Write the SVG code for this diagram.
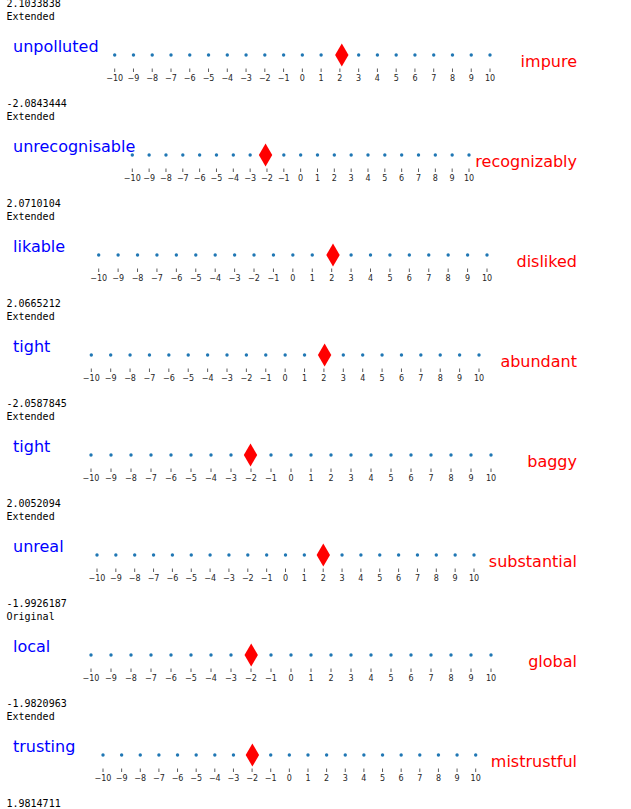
<svg xmlns="http://www.w3.org/2000/svg" xmlns:xlink="http://www.w3.org/1999/xlink" width="631" height="809" viewBox="0 0 631 809">
<style>
.val{font-family:"DejaVu Sans Mono","Liberation Mono",monospace;font-size:10px;fill:#000}
.lft{font-family:"DejaVu Sans","Noto Sans",sans-serif;font-size:16px;fill:#0000ff}
.rgt{font-family:"DejaVu Sans","Noto Sans",sans-serif;font-size:16px;fill:#ff0000;text-anchor:end}
.tl{font-family:"DejaVu Sans","Noto Sans",sans-serif;font-size:8px;fill:#262626;text-anchor:middle}
.dot{fill:#1f77b4}
.tk{stroke:#333;stroke-width:0.8;fill:none}
.dia{fill:#ff0000}
</style>
<defs>
<path id="dia" class="dia" d="M0,-11.5 L6.7,0 L0,11.5 L-6.7,0 Z"/>
<circle id="d" class="dot" r="1.7"/>
</defs>
<rect width="631" height="809" fill="#fff"/>

<g id="panel1">
<text class="val" x="6.5" y="7.3">2.1033838</text>
<text class="val" x="6.5" y="19.5">Extended</text>
<text class="lft" x="13" y="51.7">unpolluted</text>
<text class="rgt" x="577" y="66.7">impure</text>
<g>
<use xlink:href="#d" x="114.7" y="55"/><use xlink:href="#d" x="133.47" y="55"/><use xlink:href="#d" x="152.23" y="55"/><use xlink:href="#d" x="171" y="55"/><use xlink:href="#d" x="189.76" y="55"/><use xlink:href="#d" x="208.53" y="55"/><use xlink:href="#d" x="227.29" y="55"/><use xlink:href="#d" x="246.06" y="55"/><use xlink:href="#d" x="264.82" y="55"/><use xlink:href="#d" x="283.59" y="55"/><use xlink:href="#d" x="302.35" y="55"/><use xlink:href="#d" x="321.12" y="55"/><use xlink:href="#d" x="339.88" y="55"/><use xlink:href="#d" x="358.65" y="55"/><use xlink:href="#d" x="377.41" y="55"/><use xlink:href="#d" x="396.18" y="55"/><use xlink:href="#d" x="414.94" y="55"/><use xlink:href="#d" x="433.71" y="55"/><use xlink:href="#d" x="452.47" y="55"/><use xlink:href="#d" x="471.24" y="55"/><use xlink:href="#d" x="490" y="55"/>
</g>
<path class="tk" d="M114.7 68.5v3.5M133.47 68.5v3.5M152.23 68.5v3.5M171 68.5v3.5M189.76 68.5v3.5M208.53 68.5v3.5M227.29 68.5v3.5M246.06 68.5v3.5M264.82 68.5v3.5M283.59 68.5v3.5M302.35 68.5v3.5M321.12 68.5v3.5M339.88 68.5v3.5M358.65 68.5v3.5M377.41 68.5v3.5M396.18 68.5v3.5M414.94 68.5v3.5M433.71 68.5v3.5M452.47 68.5v3.5M471.24 68.5v3.5M490 68.5v3.5"/>
<text class="tl" x="114.7" y="80.5">−10</text><text class="tl" x="133.47" y="80.5">−9</text><text class="tl" x="152.23" y="80.5">−8</text><text class="tl" x="171" y="80.5">−7</text><text class="tl" x="189.76" y="80.5">−6</text><text class="tl" x="208.53" y="80.5">−5</text><text class="tl" x="227.29" y="80.5">−4</text><text class="tl" x="246.06" y="80.5">−3</text><text class="tl" x="264.82" y="80.5">−2</text><text class="tl" x="283.59" y="80.5">−1</text><text class="tl" x="302.35" y="80.5">0</text><text class="tl" x="321.12" y="80.5">1</text><text class="tl" x="339.88" y="80.5">2</text><text class="tl" x="358.65" y="80.5">3</text><text class="tl" x="377.41" y="80.5">4</text><text class="tl" x="396.18" y="80.5">5</text><text class="tl" x="414.94" y="80.5">6</text><text class="tl" x="433.71" y="80.5">7</text><text class="tl" x="452.47" y="80.5">8</text><text class="tl" x="471.24" y="80.5">9</text><text class="tl" x="490" y="80.5">10</text>
<use xlink:href="#dia" x="341.8" y="55"/>
</g>

<g id="panel2" transform="translate(0,100)">
<text class="val" x="6.5" y="7.3">-2.0843444</text>
<text class="val" x="6.5" y="19.5">Extended</text>
<text class="lft" x="13" y="51.7">unrecognisable</text>
<text class="rgt" x="577" y="66.7">recognizably</text>
<g>
<use xlink:href="#d" x="132.3" y="55"/><use xlink:href="#d" x="149.14" y="55"/><use xlink:href="#d" x="165.97" y="55"/><use xlink:href="#d" x="182.81" y="55"/><use xlink:href="#d" x="199.64" y="55"/><use xlink:href="#d" x="216.48" y="55"/><use xlink:href="#d" x="233.31" y="55"/><use xlink:href="#d" x="250.15" y="55"/><use xlink:href="#d" x="266.98" y="55"/><use xlink:href="#d" x="283.82" y="55"/><use xlink:href="#d" x="300.65" y="55"/><use xlink:href="#d" x="317.49" y="55"/><use xlink:href="#d" x="334.32" y="55"/><use xlink:href="#d" x="351.16" y="55"/><use xlink:href="#d" x="367.99" y="55"/><use xlink:href="#d" x="384.83" y="55"/><use xlink:href="#d" x="401.66" y="55"/><use xlink:href="#d" x="418.5" y="55"/><use xlink:href="#d" x="435.33" y="55"/><use xlink:href="#d" x="452.17" y="55"/><use xlink:href="#d" x="469" y="55"/>
</g>
<path class="tk" d="M132.3 68.5v3.5M149.14 68.5v3.5M165.97 68.5v3.5M182.81 68.5v3.5M199.64 68.5v3.5M216.48 68.5v3.5M233.31 68.5v3.5M250.15 68.5v3.5M266.98 68.5v3.5M283.82 68.5v3.5M300.65 68.5v3.5M317.49 68.5v3.5M334.32 68.5v3.5M351.16 68.5v3.5M367.99 68.5v3.5M384.83 68.5v3.5M401.66 68.5v3.5M418.5 68.5v3.5M435.33 68.5v3.5M452.17 68.5v3.5M469 68.5v3.5"/>
<text class="tl" x="132.3" y="80.5">−10</text><text class="tl" x="149.14" y="80.5">−9</text><text class="tl" x="165.97" y="80.5">−8</text><text class="tl" x="182.81" y="80.5">−7</text><text class="tl" x="199.64" y="80.5">−6</text><text class="tl" x="216.48" y="80.5">−5</text><text class="tl" x="233.31" y="80.5">−4</text><text class="tl" x="250.15" y="80.5">−3</text><text class="tl" x="266.98" y="80.5">−2</text><text class="tl" x="283.82" y="80.5">−1</text><text class="tl" x="300.65" y="80.5">0</text><text class="tl" x="317.49" y="80.5">1</text><text class="tl" x="334.32" y="80.5">2</text><text class="tl" x="351.16" y="80.5">3</text><text class="tl" x="367.99" y="80.5">4</text><text class="tl" x="384.83" y="80.5">5</text><text class="tl" x="401.66" y="80.5">6</text><text class="tl" x="418.5" y="80.5">7</text><text class="tl" x="435.33" y="80.5">8</text><text class="tl" x="452.17" y="80.5">9</text><text class="tl" x="469" y="80.5">10</text>
<use xlink:href="#dia" x="265.56" y="55"/>
</g>

<g id="panel3" transform="translate(0,200)">
<text class="val" x="6.5" y="7.3">2.0710104</text>
<text class="val" x="6.5" y="19.5">Extended</text>
<text class="lft" x="13" y="51.7">likable</text>
<text class="rgt" x="577" y="66.7">disliked</text>
<g>
<use xlink:href="#d" x="98.7" y="55"/><use xlink:href="#d" x="118.12" y="55"/><use xlink:href="#d" x="137.53" y="55"/><use xlink:href="#d" x="156.95" y="55"/><use xlink:href="#d" x="176.36" y="55"/><use xlink:href="#d" x="195.78" y="55"/><use xlink:href="#d" x="215.19" y="55"/><use xlink:href="#d" x="234.61" y="55"/><use xlink:href="#d" x="254.02" y="55"/><use xlink:href="#d" x="273.44" y="55"/><use xlink:href="#d" x="292.85" y="55"/><use xlink:href="#d" x="312.27" y="55"/><use xlink:href="#d" x="331.68" y="55"/><use xlink:href="#d" x="351.1" y="55"/><use xlink:href="#d" x="370.51" y="55"/><use xlink:href="#d" x="389.93" y="55"/><use xlink:href="#d" x="409.34" y="55"/><use xlink:href="#d" x="428.76" y="55"/><use xlink:href="#d" x="448.17" y="55"/><use xlink:href="#d" x="467.59" y="55"/><use xlink:href="#d" x="487" y="55"/>
</g>
<path class="tk" d="M98.7 68.5v3.5M118.12 68.5v3.5M137.53 68.5v3.5M156.95 68.5v3.5M176.36 68.5v3.5M195.78 68.5v3.5M215.19 68.5v3.5M234.61 68.5v3.5M254.02 68.5v3.5M273.44 68.5v3.5M292.85 68.5v3.5M312.27 68.5v3.5M331.68 68.5v3.5M351.1 68.5v3.5M370.51 68.5v3.5M389.93 68.5v3.5M409.34 68.5v3.5M428.76 68.5v3.5M448.17 68.5v3.5M467.59 68.5v3.5M487 68.5v3.5"/>
<text class="tl" x="98.7" y="80.5">−10</text><text class="tl" x="118.12" y="80.5">−9</text><text class="tl" x="137.53" y="80.5">−8</text><text class="tl" x="156.95" y="80.5">−7</text><text class="tl" x="176.36" y="80.5">−6</text><text class="tl" x="195.78" y="80.5">−5</text><text class="tl" x="215.19" y="80.5">−4</text><text class="tl" x="234.61" y="80.5">−3</text><text class="tl" x="254.02" y="80.5">−2</text><text class="tl" x="273.44" y="80.5">−1</text><text class="tl" x="292.85" y="80.5">0</text><text class="tl" x="312.27" y="80.5">1</text><text class="tl" x="331.68" y="80.5">2</text><text class="tl" x="351.1" y="80.5">3</text><text class="tl" x="370.51" y="80.5">4</text><text class="tl" x="389.93" y="80.5">5</text><text class="tl" x="409.34" y="80.5">6</text><text class="tl" x="428.76" y="80.5">7</text><text class="tl" x="448.17" y="80.5">8</text><text class="tl" x="467.59" y="80.5">9</text><text class="tl" x="487" y="80.5">10</text>
<use xlink:href="#dia" x="333" y="55"/>
</g>

<g id="panel4" transform="translate(0,300)">
<text class="val" x="6.5" y="7.3">2.0665212</text>
<text class="val" x="6.5" y="19.5">Extended</text>
<text class="lft" x="13" y="51.7">tight</text>
<text class="rgt" x="577" y="66.7">abundant</text>
<g>
<use xlink:href="#d" x="91.3" y="55"/><use xlink:href="#d" x="110.69" y="55"/><use xlink:href="#d" x="130.07" y="55"/><use xlink:href="#d" x="149.46" y="55"/><use xlink:href="#d" x="168.84" y="55"/><use xlink:href="#d" x="188.23" y="55"/><use xlink:href="#d" x="207.61" y="55"/><use xlink:href="#d" x="227" y="55"/><use xlink:href="#d" x="246.38" y="55"/><use xlink:href="#d" x="265.77" y="55"/><use xlink:href="#d" x="285.15" y="55"/><use xlink:href="#d" x="304.54" y="55"/><use xlink:href="#d" x="323.92" y="55"/><use xlink:href="#d" x="343.31" y="55"/><use xlink:href="#d" x="362.69" y="55"/><use xlink:href="#d" x="382.08" y="55"/><use xlink:href="#d" x="401.46" y="55"/><use xlink:href="#d" x="420.85" y="55"/><use xlink:href="#d" x="440.23" y="55"/><use xlink:href="#d" x="459.62" y="55"/><use xlink:href="#d" x="479" y="55"/>
</g>
<path class="tk" d="M91.3 68.5v3.5M110.69 68.5v3.5M130.07 68.5v3.5M149.46 68.5v3.5M168.84 68.5v3.5M188.23 68.5v3.5M207.61 68.5v3.5M227 68.5v3.5M246.38 68.5v3.5M265.77 68.5v3.5M285.15 68.5v3.5M304.54 68.5v3.5M323.92 68.5v3.5M343.31 68.5v3.5M362.69 68.5v3.5M382.08 68.5v3.5M401.46 68.5v3.5M420.85 68.5v3.5M440.23 68.5v3.5M459.62 68.5v3.5M479 68.5v3.5"/>
<text class="tl" x="91.3" y="80.5">−10</text><text class="tl" x="110.69" y="80.5">−9</text><text class="tl" x="130.07" y="80.5">−8</text><text class="tl" x="149.46" y="80.5">−7</text><text class="tl" x="168.84" y="80.5">−6</text><text class="tl" x="188.23" y="80.5">−5</text><text class="tl" x="207.61" y="80.5">−4</text><text class="tl" x="227" y="80.5">−3</text><text class="tl" x="246.38" y="80.5">−2</text><text class="tl" x="265.77" y="80.5">−1</text><text class="tl" x="285.15" y="80.5">0</text><text class="tl" x="304.54" y="80.5">1</text><text class="tl" x="323.92" y="80.5">2</text><text class="tl" x="343.31" y="80.5">3</text><text class="tl" x="362.69" y="80.5">4</text><text class="tl" x="382.08" y="80.5">5</text><text class="tl" x="401.46" y="80.5">6</text><text class="tl" x="420.85" y="80.5">7</text><text class="tl" x="440.23" y="80.5">8</text><text class="tl" x="459.62" y="80.5">9</text><text class="tl" x="479" y="80.5">10</text>
<use xlink:href="#dia" x="324.6" y="55"/>
</g>

<g id="panel5" transform="translate(0,400)">
<text class="val" x="6.5" y="7.3">-2.0587845</text>
<text class="val" x="6.5" y="19.5">Extended</text>
<text class="lft" x="13" y="51.7">tight</text>
<text class="rgt" x="577" y="66.7">baggy</text>
<g>
<use xlink:href="#d" x="91" y="55"/><use xlink:href="#d" x="111" y="55"/><use xlink:href="#d" x="131" y="55"/><use xlink:href="#d" x="151" y="55"/><use xlink:href="#d" x="171" y="55"/><use xlink:href="#d" x="191" y="55"/><use xlink:href="#d" x="211" y="55"/><use xlink:href="#d" x="231" y="55"/><use xlink:href="#d" x="251" y="55"/><use xlink:href="#d" x="271" y="55"/><use xlink:href="#d" x="291" y="55"/><use xlink:href="#d" x="311" y="55"/><use xlink:href="#d" x="331" y="55"/><use xlink:href="#d" x="351" y="55"/><use xlink:href="#d" x="371" y="55"/><use xlink:href="#d" x="391" y="55"/><use xlink:href="#d" x="411" y="55"/><use xlink:href="#d" x="431" y="55"/><use xlink:href="#d" x="451" y="55"/><use xlink:href="#d" x="471" y="55"/><use xlink:href="#d" x="491" y="55"/>
</g>
<path class="tk" d="M91 68.5v3.5M111 68.5v3.5M131 68.5v3.5M151 68.5v3.5M171 68.5v3.5M191 68.5v3.5M211 68.5v3.5M231 68.5v3.5M251 68.5v3.5M271 68.5v3.5M291 68.5v3.5M311 68.5v3.5M331 68.5v3.5M351 68.5v3.5M371 68.5v3.5M391 68.5v3.5M411 68.5v3.5M431 68.5v3.5M451 68.5v3.5M471 68.5v3.5M491 68.5v3.5"/>
<text class="tl" x="91" y="80.5">−10</text><text class="tl" x="111" y="80.5">−9</text><text class="tl" x="131" y="80.5">−8</text><text class="tl" x="151" y="80.5">−7</text><text class="tl" x="171" y="80.5">−6</text><text class="tl" x="191" y="80.5">−5</text><text class="tl" x="211" y="80.5">−4</text><text class="tl" x="231" y="80.5">−3</text><text class="tl" x="251" y="80.5">−2</text><text class="tl" x="271" y="80.5">−1</text><text class="tl" x="291" y="80.5">0</text><text class="tl" x="311" y="80.5">1</text><text class="tl" x="331" y="80.5">2</text><text class="tl" x="351" y="80.5">3</text><text class="tl" x="371" y="80.5">4</text><text class="tl" x="391" y="80.5">5</text><text class="tl" x="411" y="80.5">6</text><text class="tl" x="431" y="80.5">7</text><text class="tl" x="451" y="80.5">8</text><text class="tl" x="471" y="80.5">9</text><text class="tl" x="491" y="80.5">10</text>
<use xlink:href="#dia" x="250.5" y="55"/>
</g>

<g id="panel6" transform="translate(0,500)">
<text class="val" x="6.5" y="7.3">2.0052094</text>
<text class="val" x="6.5" y="19.5">Extended</text>
<text class="lft" x="13" y="51.7">unreal</text>
<text class="rgt" x="577" y="66.7">substantial</text>
<g>
<use xlink:href="#d" x="97" y="55"/><use xlink:href="#d" x="115.85" y="55"/><use xlink:href="#d" x="134.7" y="55"/><use xlink:href="#d" x="153.55" y="55"/><use xlink:href="#d" x="172.4" y="55"/><use xlink:href="#d" x="191.25" y="55"/><use xlink:href="#d" x="210.1" y="55"/><use xlink:href="#d" x="228.95" y="55"/><use xlink:href="#d" x="247.8" y="55"/><use xlink:href="#d" x="266.65" y="55"/><use xlink:href="#d" x="285.5" y="55"/><use xlink:href="#d" x="304.35" y="55"/><use xlink:href="#d" x="323.2" y="55"/><use xlink:href="#d" x="342.05" y="55"/><use xlink:href="#d" x="360.9" y="55"/><use xlink:href="#d" x="379.75" y="55"/><use xlink:href="#d" x="398.6" y="55"/><use xlink:href="#d" x="417.45" y="55"/><use xlink:href="#d" x="436.3" y="55"/><use xlink:href="#d" x="455.15" y="55"/><use xlink:href="#d" x="474" y="55"/>
</g>
<path class="tk" d="M97 68.5v3.5M115.85 68.5v3.5M134.7 68.5v3.5M153.55 68.5v3.5M172.4 68.5v3.5M191.25 68.5v3.5M210.1 68.5v3.5M228.95 68.5v3.5M247.8 68.5v3.5M266.65 68.5v3.5M285.5 68.5v3.5M304.35 68.5v3.5M323.2 68.5v3.5M342.05 68.5v3.5M360.9 68.5v3.5M379.75 68.5v3.5M398.6 68.5v3.5M417.45 68.5v3.5M436.3 68.5v3.5M455.15 68.5v3.5M474 68.5v3.5"/>
<text class="tl" x="97" y="80.5">−10</text><text class="tl" x="115.85" y="80.5">−9</text><text class="tl" x="134.7" y="80.5">−8</text><text class="tl" x="153.55" y="80.5">−7</text><text class="tl" x="172.4" y="80.5">−6</text><text class="tl" x="191.25" y="80.5">−5</text><text class="tl" x="210.1" y="80.5">−4</text><text class="tl" x="228.95" y="80.5">−3</text><text class="tl" x="247.8" y="80.5">−2</text><text class="tl" x="266.65" y="80.5">−1</text><text class="tl" x="285.5" y="80.5">0</text><text class="tl" x="304.35" y="80.5">1</text><text class="tl" x="323.2" y="80.5">2</text><text class="tl" x="342.05" y="80.5">3</text><text class="tl" x="360.9" y="80.5">4</text><text class="tl" x="379.75" y="80.5">5</text><text class="tl" x="398.6" y="80.5">6</text><text class="tl" x="417.45" y="80.5">7</text><text class="tl" x="436.3" y="80.5">8</text><text class="tl" x="455.15" y="80.5">9</text><text class="tl" x="474" y="80.5">10</text>
<use xlink:href="#dia" x="323.3" y="55"/>
</g>

<g id="panel7" transform="translate(0,600)">
<text class="val" x="6.5" y="7.3">-1.9926187</text>
<text class="val" x="6.5" y="19.5">Original</text>
<text class="lft" x="13" y="51.7">local</text>
<text class="rgt" x="577" y="66.7">global</text>
<g>
<use xlink:href="#d" x="91" y="55"/><use xlink:href="#d" x="111" y="55"/><use xlink:href="#d" x="131" y="55"/><use xlink:href="#d" x="151" y="55"/><use xlink:href="#d" x="171" y="55"/><use xlink:href="#d" x="191" y="55"/><use xlink:href="#d" x="211" y="55"/><use xlink:href="#d" x="231" y="55"/><use xlink:href="#d" x="251" y="55"/><use xlink:href="#d" x="271" y="55"/><use xlink:href="#d" x="291" y="55"/><use xlink:href="#d" x="311" y="55"/><use xlink:href="#d" x="331" y="55"/><use xlink:href="#d" x="351" y="55"/><use xlink:href="#d" x="371" y="55"/><use xlink:href="#d" x="391" y="55"/><use xlink:href="#d" x="411" y="55"/><use xlink:href="#d" x="431" y="55"/><use xlink:href="#d" x="451" y="55"/><use xlink:href="#d" x="471" y="55"/><use xlink:href="#d" x="491" y="55"/>
</g>
<path class="tk" d="M91 68.5v3.5M111 68.5v3.5M131 68.5v3.5M151 68.5v3.5M171 68.5v3.5M191 68.5v3.5M211 68.5v3.5M231 68.5v3.5M251 68.5v3.5M271 68.5v3.5M291 68.5v3.5M311 68.5v3.5M331 68.5v3.5M351 68.5v3.5M371 68.5v3.5M391 68.5v3.5M411 68.5v3.5M431 68.5v3.5M451 68.5v3.5M471 68.5v3.5M491 68.5v3.5"/>
<text class="tl" x="91" y="80.5">−10</text><text class="tl" x="111" y="80.5">−9</text><text class="tl" x="131" y="80.5">−8</text><text class="tl" x="151" y="80.5">−7</text><text class="tl" x="171" y="80.5">−6</text><text class="tl" x="191" y="80.5">−5</text><text class="tl" x="211" y="80.5">−4</text><text class="tl" x="231" y="80.5">−3</text><text class="tl" x="251" y="80.5">−2</text><text class="tl" x="271" y="80.5">−1</text><text class="tl" x="291" y="80.5">0</text><text class="tl" x="311" y="80.5">1</text><text class="tl" x="331" y="80.5">2</text><text class="tl" x="351" y="80.5">3</text><text class="tl" x="371" y="80.5">4</text><text class="tl" x="391" y="80.5">5</text><text class="tl" x="411" y="80.5">6</text><text class="tl" x="431" y="80.5">7</text><text class="tl" x="451" y="80.5">8</text><text class="tl" x="471" y="80.5">9</text><text class="tl" x="491" y="80.5">10</text>
<use xlink:href="#dia" x="251.2" y="55"/>
</g>

<g id="panel8" transform="translate(0,700)">
<text class="val" x="6.5" y="7.3">-1.9820963</text>
<text class="val" x="6.5" y="19.5">Extended</text>
<text class="lft" x="13" y="51.7">trusting</text>
<text class="rgt" x="577" y="66.7">mistrustful</text>
<g>
<use xlink:href="#d" x="103" y="55"/><use xlink:href="#d" x="121.64" y="55"/><use xlink:href="#d" x="140.27" y="55"/><use xlink:href="#d" x="158.91" y="55"/><use xlink:href="#d" x="177.54" y="55"/><use xlink:href="#d" x="196.18" y="55"/><use xlink:href="#d" x="214.81" y="55"/><use xlink:href="#d" x="233.45" y="55"/><use xlink:href="#d" x="252.08" y="55"/><use xlink:href="#d" x="270.72" y="55"/><use xlink:href="#d" x="289.35" y="55"/><use xlink:href="#d" x="307.99" y="55"/><use xlink:href="#d" x="326.62" y="55"/><use xlink:href="#d" x="345.26" y="55"/><use xlink:href="#d" x="363.89" y="55"/><use xlink:href="#d" x="382.53" y="55"/><use xlink:href="#d" x="401.16" y="55"/><use xlink:href="#d" x="419.8" y="55"/><use xlink:href="#d" x="438.43" y="55"/><use xlink:href="#d" x="457.07" y="55"/><use xlink:href="#d" x="475.7" y="55"/>
</g>
<path class="tk" d="M103 68.5v3.5M121.64 68.5v3.5M140.27 68.5v3.5M158.91 68.5v3.5M177.54 68.5v3.5M196.18 68.5v3.5M214.81 68.5v3.5M233.45 68.5v3.5M252.08 68.5v3.5M270.72 68.5v3.5M289.35 68.5v3.5M307.99 68.5v3.5M326.62 68.5v3.5M345.26 68.5v3.5M363.89 68.5v3.5M382.53 68.5v3.5M401.16 68.5v3.5M419.8 68.5v3.5M438.43 68.5v3.5M457.07 68.5v3.5M475.7 68.5v3.5"/>
<text class="tl" x="103" y="80.5">−10</text><text class="tl" x="121.64" y="80.5">−9</text><text class="tl" x="140.27" y="80.5">−8</text><text class="tl" x="158.91" y="80.5">−7</text><text class="tl" x="177.54" y="80.5">−6</text><text class="tl" x="196.18" y="80.5">−5</text><text class="tl" x="214.81" y="80.5">−4</text><text class="tl" x="233.45" y="80.5">−3</text><text class="tl" x="252.08" y="80.5">−2</text><text class="tl" x="270.72" y="80.5">−1</text><text class="tl" x="289.35" y="80.5">0</text><text class="tl" x="307.99" y="80.5">1</text><text class="tl" x="326.62" y="80.5">2</text><text class="tl" x="345.26" y="80.5">3</text><text class="tl" x="363.89" y="80.5">4</text><text class="tl" x="382.53" y="80.5">5</text><text class="tl" x="401.16" y="80.5">6</text><text class="tl" x="419.8" y="80.5">7</text><text class="tl" x="438.43" y="80.5">8</text><text class="tl" x="457.07" y="80.5">9</text><text class="tl" x="475.7" y="80.5">10</text>
<use xlink:href="#dia" x="252.4" y="55"/>
<text class="val" x="6.5" y="107.3">1.9814711</text>
</g>
</svg>
